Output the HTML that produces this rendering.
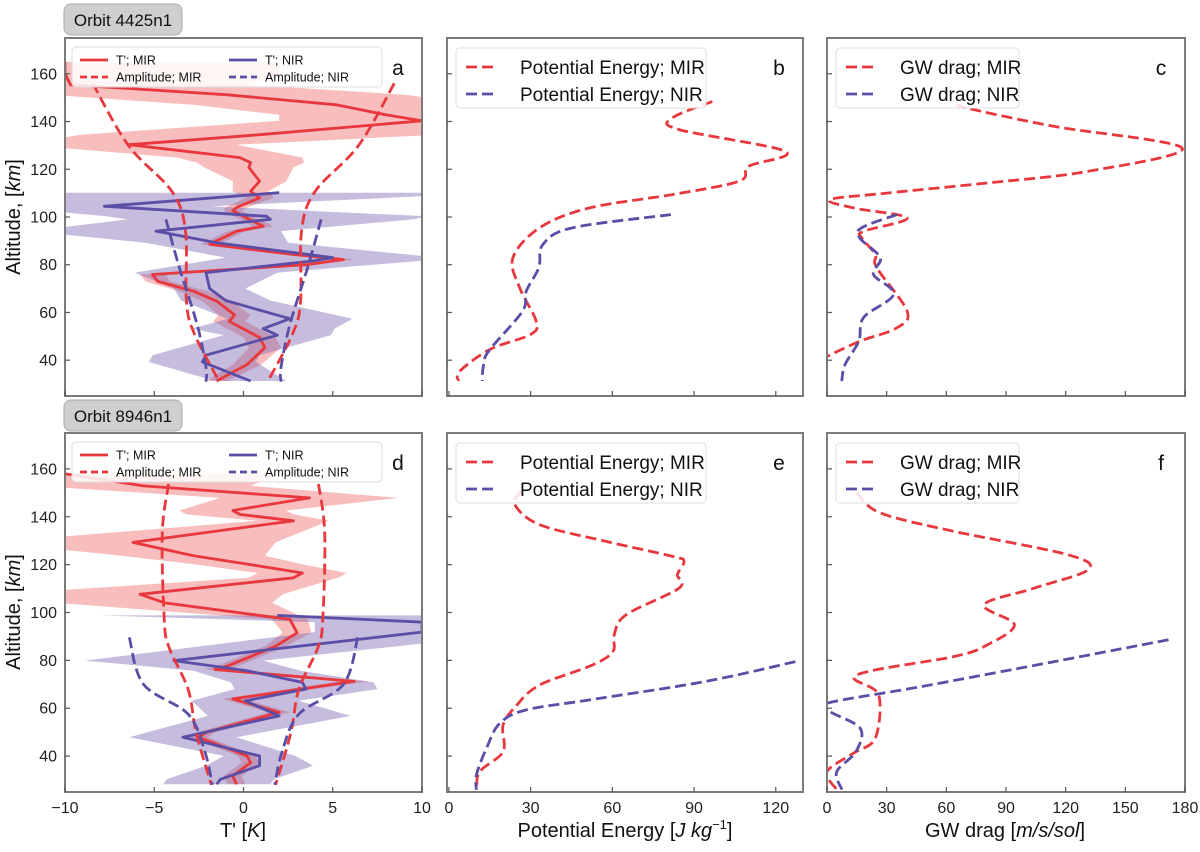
<!DOCTYPE html>
<html><head><meta charset="utf-8"><style>
body{margin:0;background:#fff;}
svg text{font-family:"Liberation Sans",sans-serif;}
</style></head><body>
<svg id="fig" width="1200" height="847" viewBox="0 0 1200 847"></svg>
<script>
// ===== Panel a data (Orbit 4425n1, temperature perturbation) =====
const aMirAlt  = [165,160,155.4,151.2,147,142.8,140.3,134.5,130.3,124.9,122.8,120.8,115,110.8,108,104,102.6,96.1,94,88.5,84.3,82.2,80,75.9,73,68.9,64.7,59,56.3,49.5,45.3,38.2,31.3];
const aMirT    = [-10,-10,-9.7,-0.9,5.2,8.0,10,0.9,-6.4,-0.2,0.4,0.3,0.9,0.4,0.9,-0.4,-0.6,1.1,-0.4,-1.9,2.8,5.6,3.5,-5.1,-4.8,-2.8,-1.5,-0.5,-0.8,0.9,1.2,0.2,-1.5];
const aMirBand = [12,12,10,10,8,6,8,10,6,3.5,3,2.5,1.5,1,0.8,0.6,0.5,0.6,0.5,0.5,0.6,0.6,0.6,0.7,0.7,0.8,0.8,0.9,0.9,0.9,0.9,0.8,0.6];
const aNirAlt  = [110.2,104.5,100.3,99,94.1,89.2,83,81.6,76.7,70,65,57.4,53.2,50.5,42.1,39.3,31.3];
const aNirT    = [2.0,-7.8,1.3,1.5,-4.9,-1.5,5.0,3.9,-2.1,-1.9,-1.0,2.6,1.1,1.9,-2.1,-2.3,0.4];
const aNirBand = [12,6,9,8,7,4,6,6,4,2,2.5,3.5,4,3,3,3,2];
const aMirAmpAlt = [156,130,110.6,94,64.7,51,31];
const aMirAmp    = [8.45,6.45,4.0,3.25,3.2,2.75,1.35];
const aNirAmpAlt = [99,79,55,37,31];
const aNirAmp    = [4.35,3.6,2.6,2.1,2.1];
// ===== Panel b data (potential energy) =====
const bMirAlt = [148.4,141.5,136.6,127.5,121.2,115,109.4,103.8,95.5,82.9,70.3,56.4,50.8,44.5,35.4,31.3];
const bMirPE  = [96.7,82,84.5,123.5,110,106.5,82,51.6,33.3,23.5,26,32,30,15,4,3.5];
const bNirAlt = [101,95.5,88.5,78.8,68.9,60.5,43.8,37.1,31.3];
const bNirPE  = [81.5,45.5,34.5,33,28.4,27,14.6,12.6,12.3];
// ===== Panel c data (GW drag) =====
const cMirAlt = [147,145.7,138,128.9,119.1,114.3,110,107.3,103.8,99.6,94,91.2,84.3,78.8,60.5,53.5,48,41.6];
const cMirGW  = [67,70,114,178.5,131,81,30,1.5,13.3,40.3,18.4,17.5,24.3,25,40.3,35,16.7,0];
const cNirAlt = [101,95.5,91.2,82.9,75.9,67.6,57.9,48,38.2,31.3];
const cNirGW  = [35.2,17.5,16.5,26.8,23.4,33.5,18.4,16,9.1,7.4];
// ===== Panel d data (Orbit 8946n1) =====
const dMirAlt  = [158,152.9,147.9,142.6,141,138.3,129.3,123.7,120,116.5,114.5,107.6,104,97.1,91.5,85.9,77.6,76.2,71.2,63.9,58.3,49.9,47.8,40.1,37.3,31.7,28.2];
const dMirT    = [-10,-5.6,3.7,-0.6,-0.2,2.8,-6.2,-2.8,0.4,3.3,2.8,-5.8,-4.4,2.6,3.0,1.8,-0.9,-1.6,6.2,-0.6,2.0,-2.1,-2.5,0.2,0.4,-0.6,-0.4];
const dMirBand = [12,6,5,3,3,2,8,4,3,2.5,2.5,8,6,1,0.8,0.6,0.6,0.6,0.8,0.6,0.6,0.5,0.5,0.5,0.5,0.5,0.5];
const dNirAlt  = [98.8,96,91.8,79.9,75.7,70.8,68,63.1,56.8,47.9,40.1,36,30.3,28.2];
const dNirT    = [1.9,10,10,-3.9,0.2,3.3,3.5,0.1,2.0,-3.4,0.9,0.9,-1.3,-1.5];
const dNirBand = [10,6,6,5,3,4,4,3,4,3,2,3,3,3];
const dMirAmpAlt = [153.7,133.4,98.5,86,67.8,49.7,28];
const dMirAmp    = [4.2,4.55,4.45,4.2,3.1,2.65,1.8];
const dNirAmpAlt = [89.6,70,57.5,41.5,28];
const dNirAmp    = [6.4,5.6,3.1,2.15,1.75];
// ===== Panel e data =====
const eMirAlt = [150.7,145.1,136.7,129.7,123.5,121.4,115.8,110.2,99,90.7,83.7,78.1,69.7,61.4,53,41.9,33.5,25.9];
const eMirPE  = [26.6,24.2,33.3,57.7,82,86.3,83.9,84.5,65,60.7,60.2,52.8,33.3,25,19.9,19.9,11.3,10.2];
const eNirAlt = [79.5,71.2,63.5,59.3,53.7,43.3,32.1,25.9];
const eNirPE  = [127.2,94.3,51.6,28.4,18.7,13.8,10.1,10.1];
// ===== Panel f data =====
const fMirAlt = [150,141.6,133.9,124.1,117.9,110.2,103.2,94.9,86.5,81.6,73.9,65.6,47.5,41.2,33.5,26];
const fMirGW  = [15,26.8,63.9,121.2,131.3,104.3,79,94.2,80.7,63.9,15,26,24.3,13.3,0,4.9];
const fNirAlt = [88.6,79.5,69,62.1,58.6,51.6,41.9,33.5,26];
const fNirGW  = [171.7,114.4,47,0,1.5,16.7,14.6,4.9,7.5];
// ===== Ticks =====
const yTicks  = [40,60,80,100,120,140,160];
const tTicks  = [-10,-5,0,5,10];
const peTicks = [0,30,60,90,120];
const gwTicks = [0,30,60,90,120,150,180];

const RED='#e8383d', BLUE='#5a4ea6';
const NS='http://www.w3.org/2000/svg';
const svg=document.getElementById('fig');
function mk(tag,attrs,parent){const e=document.createElementNS(NS,tag);for(const k in attrs)e.setAttribute(k,attrs[k]);(parent||svg).appendChild(e);return e;}

const cols=[{x0:65,x1:422},{x0:447,x1:803},{x0:827,x1:1185}];
const rows=[{y0:38,y1:396},{y0:433,y1:792}];
function yScale(r){const R=rows[r];return a=>R.y1-(a-25)/(175-25)*(R.y1-R.y0);}
function xScale(c,mn,mx){const C=cols[c];return v=>C.x0+(v-mn)/(mx-mn)*(C.x1-C.x0);}

function crPath(pts){
  let d='M'+pts[0][0].toFixed(1)+','+pts[0][1].toFixed(1);
  for(let i=0;i<pts.length-1;i++){
    const p0=pts[i-1]||pts[i],p1=pts[i],p2=pts[i+1],p3=pts[i+2]||p2;
    const c1=[p1[0]+(p2[0]-p0[0])/6,p1[1]+(p2[1]-p0[1])/6];
    const c2=[p2[0]-(p3[0]-p1[0])/6,p2[1]-(p3[1]-p1[1])/6];
    d+=' C'+c1[0].toFixed(1)+','+c1[1].toFixed(1)+' '+c2[0].toFixed(1)+','+c2[1].toFixed(1)+' '+p2[0].toFixed(1)+','+p2[1].toFixed(1);
  }
  return d;
}
function linPath(pts){return 'M'+pts.map(p=>p[0].toFixed(1)+','+p[1].toFixed(1)).join(' L');}

let clipId=0;
function panel(r,c,mn,mx,ticks,letter,showYLabels,showXLabels){
  const C=cols[c],R=rows[r];
  const g=mk('g',{});
  
  
  const id='clip'+(clipId++);
  const cp=mk('clipPath',{id:id},g);mk('rect',{x:C.x0,y:R.y0,width:C.x1-C.x0,height:R.y1-R.y0},cp);
  const plot=mk('g',{'clip-path':'url(#'+id+')'},g);
  const X=xScale(c,mn,mx),Y=yScale(r);
  const fr=mk('rect',{x:C.x0,y:R.y0,width:C.x1-C.x0,height:R.y1-R.y0,fill:'none',stroke:'#7a7a7a','stroke-width':2},g);
  
  
  yTicks.forEach(t=>{
    const y=Y(t);
    mk('line',{x1:C.x0,x2:C.x0+5,y1:y,y2:y,stroke:'#555','stroke-width':1.2},g);
    if(showYLabels){const tx=mk('text',{x:C.x0-8,y:y+5.5,'text-anchor':'end','font-size':16,fill:'#222'},g);tx.textContent=t;
      
      }
  });
  ticks.forEach(t=>{
    const x=X(t);
    mk('line',{x1:x,x2:x,y1:R.y1,y2:R.y1-5,stroke:'#555','stroke-width':1.2},g);
    if(showXLabels){const tx=mk('text',{x:x,y:R.y1+21,'text-anchor':'middle','font-size':16,fill:'#222'},g);tx.textContent=(t<0?'\u2212'+(-t):t);
      
      }
  });
  const lt=mk('text',{x:C.x1-24,y:R.y0+37,'text-anchor':'middle','font-size':21,fill:'#111'},g);lt.textContent=letter;
  
  
  return {plot,X,Y,g,C,R};
}
function band(P,alts,vals,hw,fill,name){
  const up=alts.map((a,i)=>[P.X(vals[i]+hw[i]),P.Y(a)]);
  const lo=alts.map((a,i)=>[P.X(vals[i]-hw[i]),P.Y(a)]).reverse();
  const e=mk('polygon',{points:up.concat(lo).map(p=>p[0].toFixed(1)+','+p[1].toFixed(1)).join(' '),fill:fill,stroke:'none'},P.plot);
  
  
}
function line(P,alts,vals,color,dashed,smooth,name){
  const pts=alts.map((a,i)=>[P.X(vals[i]),P.Y(a)]);
  const e=mk('path',{d:smooth?crPath(pts):linPath(pts),fill:'none',stroke:color,'stroke-width':2.8,'stroke-linejoin':'round'},P.plot);
  if(dashed)e.setAttribute('stroke-dasharray','11,5');
  
  
}
function legend(P,x,y,w,h,items,fs,twoCol){
  const g=mk('g',{},P.g);
  
  
  mk('rect',{x:x,y:y,width:w,height:h,rx:4,fill:'#fff','fill-opacity':0.85,stroke:'#ddd'},g);
  items.forEach((it,i)=>{
    const ix= twoCol? x+8+(i%2)*(w/2-6) : x+10;
    const iy= twoCol? y+13+Math.floor(i/2)*17 : y+19+i*27;
    const ll= twoCol? 28: 32;
    const l=mk('line',{x1:ix,x2:ix+ll,y1:iy,y2:iy,stroke:it.c,'stroke-width':2.8},g);
    if(it.d)l.setAttribute('stroke-dasharray',twoCol?'7,4':'11,5');
    const t=mk('text',{x:ix+ll+(twoCol?8:22),y:iy+fs*0.36,'font-size':fs,fill:'#111'},g);t.textContent=it.t;
    
    
  });
}
const tLeg=[{t:"T'; MIR",c:RED,d:false},{t:"T'; NIR",c:BLUE,d:false},{t:'Amplitude; MIR',c:RED,d:true},{t:'Amplitude; NIR',c:BLUE,d:true}];

function tPanel(r,letter,mAlt,mT,mB,nAlt,nT,nB,maAlt,maV,naAlt,naV,xl){
  const P=panel(r,0,-10,10,tTicks,letter,true,xl);
  band(P,mAlt,mT,mB,'rgba(240,110,110,0.45)','mir-uncertainty-band');
  band(P,nAlt,nT,nB,'rgba(120,95,175,0.42)','nir-uncertainty-band');
  line(P,mAlt,mT,RED,false,false,'mir-t-prime-line');
  line(P,nAlt,nT,BLUE,false,false,'nir-t-prime-line');
  line(P,maAlt,maV.map(v=>-v),RED,true,true,'mir-amplitude-left');
  line(P,maAlt,maV,RED,true,true,'mir-amplitude-right');
  line(P,naAlt,naV.map(v=>-v),BLUE,true,true,'nir-amplitude-left');
  line(P,naAlt,naV,BLUE,true,true,'nir-amplitude-right');
  legend(P,72,P.R.y0+9,310,40,tLeg,12.5,true);
}
tPanel(0,'a',aMirAlt,aMirT,aMirBand,aNirAlt,aNirT,aNirBand,aMirAmpAlt,aMirAmp,aNirAmpAlt,aNirAmp,false);
tPanel(1,'d',dMirAlt,dMirT,dMirBand,dNirAlt,dNirT,dNirBand,dMirAmpAlt,dMirAmp,dNirAmpAlt,dNirAmp,true);

function pePanel(r,letter,mA,mV,nA,nV,xl){
  const P=panel(r,1,-0.7,130,peTicks,letter,false,xl);
  line(P,mA,mV,RED,true,true,'pe-mir-line');
  line(P,nA,nV,BLUE,true,true,'pe-nir-line');
  legend(P,456,P.R.y0+10,250,60,[{t:'Potential Energy; MIR',c:RED,d:true},{t:'Potential Energy; NIR',c:BLUE,d:true}],19,false);
}
pePanel(0,'b',bMirAlt,bMirPE,bNirAlt,bNirPE,false);
pePanel(1,'e',eMirAlt,eMirPE,eNirAlt,eNirPE,true);

function gwPanel(r,letter,mA,mV,nA,nV,xl){
  const P=panel(r,2,0,180,gwTicks,letter,false,xl);
  line(P,mA,mV,RED,true,true,'gw-mir-line');
  line(P,nA,nV,BLUE,true,true,'gw-nir-line');
  legend(P,836,P.R.y0+10,183,60,[{t:'GW drag; MIR',c:RED,d:true},{t:'GW drag; NIR',c:BLUE,d:true}],19,false);
}
gwPanel(0,'c',cMirAlt,cMirGW,cNirAlt,cNirGW,false);
gwPanel(1,'f',fMirAlt,fMirGW,fNirAlt,fNirGW,true);

[['Orbit 4425n1',4],['Orbit 8946n1',400]].forEach(([t,y])=>{
  const g=mk('g',{});
  
  
  mk('rect',{x:64,y:y,width:118,height:31,rx:7,fill:'#cfcfcf',stroke:'#aaa'},g);
  const tx=mk('text',{x:123,y:y+22,'text-anchor':'middle','font-size':17,fill:'#111'},g);tx.textContent=t;
});
[217,612].forEach(cy=>{
  const t=mk('text',{x:0,y:0,transform:'translate(20,'+cy+') rotate(-90)','text-anchor':'middle','font-size':20,fill:'#111'});
  t.innerHTML='Altitude, [<tspan font-style="italic">km</tspan>]';
  
  
});
const xt=[[243,"T' [<tspan font-style='italic'>K</tspan>]",'x-axis-title-temperature'],[625,"Potential Energy [<tspan font-style='italic'>J kg</tspan><tspan font-size='13' dy='-8'>\u22121</tspan><tspan dy='8'>]</tspan>",'x-axis-title-energy'],[1005,"GW drag [<tspan font-style='italic'>m/s/sol</tspan>]",'x-axis-title-drag']];
xt.forEach(([x,h,n])=>{
  const t=mk('text',{x:x,y:837,'text-anchor':'middle','font-size':20,fill:'#111'});
  t.innerHTML=h;
  
  
});
</script>
</body></html>
